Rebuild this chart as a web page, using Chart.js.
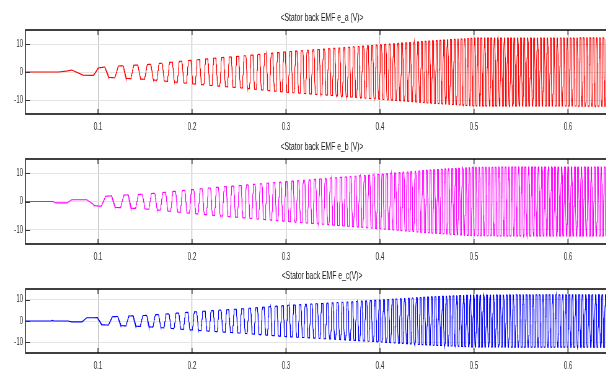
<!DOCTYPE html>
<html>
<head>
<meta charset="utf-8">
<title>Stator back EMF</title>
<style>
  html, body { margin: 0; padding: 0; background: #fff; overflow: hidden; }
  body { width: 606px; height: 370px; position: relative; }
  canvas { position: absolute; left: 0; }
</style>
</head>
<body>
<!-- drawn wide and squeezed horizontally, like the narrow lettering of the original -->
<canvas id="emfA" width="1039" height="135" style="top:0px;width:644px;height:135px"></canvas>
<canvas id="emfB" width="1039" height="137" style="top:129px;width:644px;height:137px"></canvas>
<canvas id="emfC" width="1039" height="111" style="top:259px;width:644px;height:111px"></canvas>
<script src="https://cdn.jsdelivr.net/npm/chart.js"></script>
<script>
// axes (the box runs past the right edge of the picture)
var xMin = 0.0223, xMax = 0.6809;
var yMin = -15, yMax = 15;
var xTicks = [0.1, 0.2, 0.3, 0.4, 0.5, 0.6];
var yTicks = [-10, 0, 10];
var titles = ['<Stator back EMF e_a (V)>', '<Stator back EMF e_b (V)>', '<Stator back EMF e_c(V)>'];
var colors = ['#ff0000', '#ff00ff', '#0000ff'];

// start-up wiggle before the oscillation settles in (time s, volts)
var startA_t = [0.0223, 0.058, 0.068, 0.072, 0.084];
var startA_v = [0, 0, 0.4, 0.7, -1.1];
var startB_t = [0.0223, 0.052, 0.055, 0.067, 0.072, 0.088];
var startB_v = [0, 0, -0.5, -0.5, 0.6, 0.6];
var startC_t = [0.0223, 0.050, 0.0515, 0.053, 0.068, 0.072, 0.083, 0.088];
var startC_v = [0, 0, 0.3, 0, 0, -0.4, -0.4, 1.5];

// speed ramp: electrical frequency (Hz) and EMF peak (V)
var rampT  = [0.095, 0.11, 0.13, 0.15, 0.17, 0.19, 0.21, 0.23, 0.25, 0.30, 0.35, 0.40, 0.45, 0.50, 0.66];
var rampHz = [38, 45, 62, 72, 90, 102, 112, 121, 128, 155, 185, 215, 250, 285, 285];
var peakA  = [1.2, 1.9, 2.3, 2.6, 3.2, 3.9, 4.5, 5.1, 5.6, 7.2, 8.4, 9.7, 11.0, 12.1, 12.2];
var peakB  = [1.4, 1.9, 2.3, 2.6, 3.2, 3.9, 4.5, 5.1, 5.6, 7.0, 8.3, 9.6, 11.0, 12.1, 12.2];
var peakC  = [1.5, 1.9, 2.3, 2.6, 3.2, 3.9, 4.5, 5.1, 5.6, 7.3, 8.5, 9.8, 11.2, 12.2, 12.3];
var phaseShift = [0, -1 / 3, 1 / 3];

var FONT = "'Liberation Sans', Arial, sans-serif";
var SQ = 0.62;        // horizontal squeeze of the canvases

function lookup(ts, vs, t) {
  if (t <= ts[0]) return vs[0];
  for (var i = 1; i < ts.length; i++) {
    if (t <= ts[i]) {
      var k = (t - ts[i - 1]) / (ts[i] - ts[i - 1]);
      return vs[i - 1] + k * (vs[i] - vs[i - 1]);
    }
  }
  return vs[vs.length - 1];
}

// trapezoidal back EMF shape
function trap(phi) {
  var p = phi - Math.floor(phi);
  if (p < 0.1) return p / 0.1;
  if (p <= 0.4) return 1;
  if (p < 0.6) return 1 - (p - 0.4) / 0.1;
  if (p <= 0.9) return -1;
  return -1 + (p - 0.9) / 0.1;
}

function buildSeries(startT, startV, peaks, shift) {
  var pts = [];
  for (var i = 0; i < startT.length; i++) pts.push({ x: startT[i], y: startV[i] });
  var t = rampT[0], phi = -0.1, dt = 0.0001;
  while (t <= xMax) {
    pts.push({ x: t, y: lookup(rampT, peaks, t) * trap(phi + shift) });
    phi += lookup(rampT, rampHz, t) * dt;
    t += dt;
  }
  return pts;
}

function seg(ctx, x1, y1, x2, y2) {
  ctx.beginPath(); ctx.moveTo(x1, y1); ctx.lineTo(x2, y2); ctx.stroke();
}

var framePlugin = {
  id: 'frame',
  afterDatasetsDraw: function (chart) {
    var ctx = chart.ctx, a = chart.chartArea, xs = chart.scales.x, ys = chart.scales.y;
    ctx.save();
    ctx.strokeStyle = '#333';
    ctx.lineWidth = 1.6;
    xTicks.forEach(function (v) {
      var px = xs.getPixelForValue(v);
      seg(ctx, px, a.top, px, a.top + 5);
      seg(ctx, px, a.bottom, px, a.bottom - 5);
    });
    ctx.lineWidth = 1;
    yTicks.forEach(function (v) {
      var py = Math.round(ys.getPixelForValue(v)) + 0.5;
      seg(ctx, a.left, py, a.left + 5 / SQ, py);
    });
    ctx.strokeStyle = '#000';
    ctx.lineWidth = 1.5;
    seg(ctx, a.left, a.top, a.right, a.top);
    seg(ctx, a.left, a.bottom, a.right, a.bottom);
    ctx.strokeStyle = '#333';
    ctx.lineWidth = 1.6;
    seg(ctx, a.left + 0.8, a.top, a.left + 0.8, a.bottom);
    ctx.restore();
  }
};

function makeChart(id, title, color, points, titleTop, titleBottom, axisH) {
  return new Chart(document.getElementById(id), {
    type: 'line',
    data: {
      datasets: [{
        data: points,
        borderColor: color,
        borderWidth: 1.1,
        pointRadius: 0,
        tension: 0,
        fill: false
      }]
    },
    options: {
      responsive: false,
      animation: false,
      devicePixelRatio: 1,
      layout: { padding: 0 },
      plugins: {
        legend: { display: false },
        tooltip: { enabled: false },
        title: {
          display: true, text: title, color: '#1a1a1a',
          font: { family: FONT, size: 11, weight: 'normal', lineHeight: 1.2 },
          padding: { top: titleTop, bottom: titleBottom }
        }
      },
      scales: {
        x: {
          type: 'linear', min: xMin, max: xMax,
          afterBuildTicks: function (s) { s.ticks = xTicks.map(function (v) { return { value: v }; }); },
          afterFit: function (s) { s.height = axisH; },
          grid: { color: '#b5b5b5', lineWidth: 1.2, drawTicks: false },
          border: { display: false },
          ticks: {
            padding: 7, color: '#333', autoSkip: false, maxRotation: 0,
            font: { family: FONT, size: 10 },
            callback: function (v) { return v.toFixed(1); }
          }
        },
        y: {
          min: yMin, max: yMax,
          afterBuildTicks: function (s) { s.ticks = yTicks.map(function (v) { return { value: v }; }); },
          afterFit: function (s) { s.width = 25 / SQ; },
          grid: { color: '#e4e4e4', drawTicks: false },
          border: { display: false },
          ticks: {
            padding: 3, color: '#333',
            font: { family: FONT, size: 10 },
            callback: function (v) { return String(v); }
          }
        }
      }
    },
    plugins: [framePlugin]
  });
}

makeChart('emfA', titles[0], colors[0], buildSeries(startA_t, startA_v, peakA, phaseShift[0]), 11.4, 5.4, 21);
makeChart('emfB', titles[1], colors[1], buildSeries(startB_t, startB_v, peakB, phaseShift[1]), 11.4, 5.4, 22);
makeChart('emfC', titles[2], colors[2], buildSeries(startC_t, startC_v, peakC, phaseShift[2]), 10.4, 6.4, 17);
</script>
</body>
</html>
